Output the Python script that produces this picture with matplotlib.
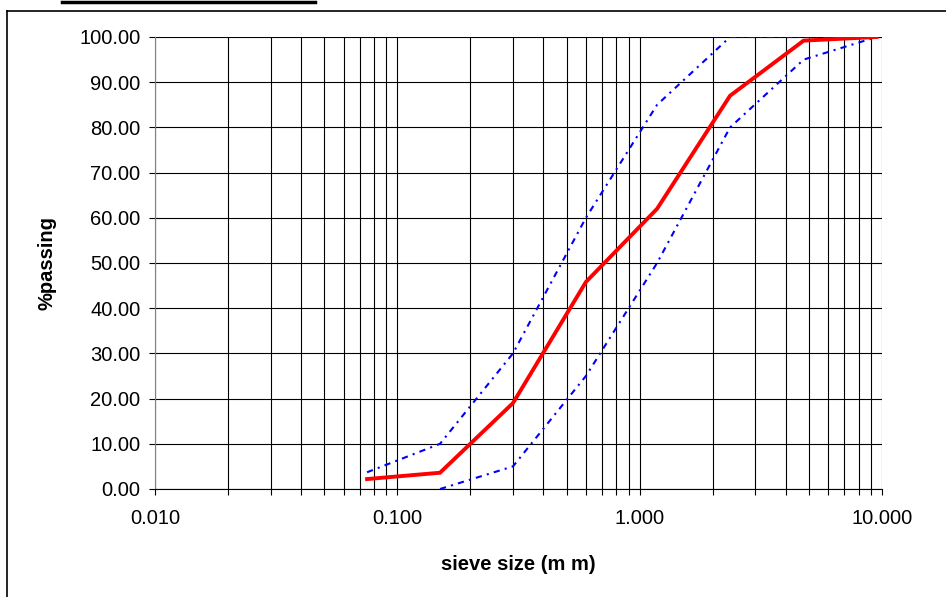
import matplotlib
matplotlib.use("Agg")
import matplotlib.pyplot as plt
from matplotlib.lines import Line2D
from matplotlib.ticker import FixedLocator, LogLocator, NullFormatter, FuncFormatter

plt.rcParams['font.family'] = ['Liberation Sans', 'DejaVu Sans']

# sieve sizes (mm) and % passing
sieve = [0.075, 0.15, 0.3, 0.6, 1.18, 2.36, 4.75, 9.5]
passing = [2.2, 3.6, 19.0, 45.8, 62.0, 87.0, 99.2, 100.0]
upper_limit = [3.7, 10.0, 30.0, 60.0, 85.0, 100.0, 100.0, 100.0]
lower_limit = [float("nan"), 0.0, 5.0, 25.0, 50.0, 80.0, 95.0, 100.0]

x_ticks = [0.01, 0.1, 1.0, 10.0]
y_ticks = [0, 10, 20, 30, 40, 50, 60, 70, 80, 90, 100]

fig = plt.figure(figsize=(9.46, 5.97), dpi=100)
ax = fig.add_axes([155 / 946, 1 - 489 / 597, 727 / 946, 452 / 597])

ax.plot(sieve, upper_limit, color="#0000FF", lw=1.5, linestyle=(0, (3, 2.5, 1, 2.5)))
ax.plot(sieve, lower_limit, color="#0000FF", lw=1.5, linestyle=(0, (3, 2.5, 1, 2.5)))
ax.plot(sieve, passing, color="#FF0000", lw=2.8, solid_joinstyle="miter")

ax.set_xscale("log")
ax.set_xlim(0.01, 10)
ax.set_ylim(0, 100)

ax.xaxis.set_major_locator(FixedLocator(x_ticks))
ax.xaxis.set_minor_locator(LogLocator(base=10, subs=range(2, 10)))
ax.xaxis.set_minor_formatter(NullFormatter())
ax.xaxis.set_major_formatter(FuncFormatter(lambda v, p: f"{v:.3f}"))
ax.yaxis.set_major_locator(FixedLocator(y_ticks))
ax.yaxis.set_major_formatter(FuncFormatter(lambda v, p: f"{v:.2f}"))

ax.grid(True, which="both", axis="x", color="black", lw=0.8)
ax.grid(True, which="major", axis="y", color="black", lw=0.8)
ax.set_axisbelow(True)

for s in ["top", "right"]:
    ax.spines[s].set_visible(False)
ax.spines["left"].set_color("#808080")
ax.spines["bottom"].set_color("black")
ax.tick_params(axis="both", which="both", direction="out", length=4.5, width=0.8,
               labelsize=14.5)
ax.tick_params(axis="x", which="major", pad=10)
ax.tick_params(axis="y", pad=6)

ax.set_xlabel("sieve size (m m)", fontsize=14.5, fontweight="bold", labelpad=19)
ax.set_ylabel("%passing", fontsize=14.5, fontweight="bold", labelpad=16)

# chart frame and title underline remnants
fig.add_artist(Line2D([7 / 946, 7 / 946], [0, 1 - 11 / 597], color="black", lw=1.2,
                      transform=fig.transFigure))
fig.add_artist(Line2D([7 / 946, 1], [1 - 11 / 597, 1 - 11 / 597], color="black", lw=1.2,
                      transform=fig.transFigure))
fig.add_artist(Line2D([62 / 946, 315 / 946], [1 - 1.5 / 597, 1 - 1.5 / 597], color="black",
                      lw=2.5, transform=fig.transFigure))

fig.savefig("out.png", dpi=100)
